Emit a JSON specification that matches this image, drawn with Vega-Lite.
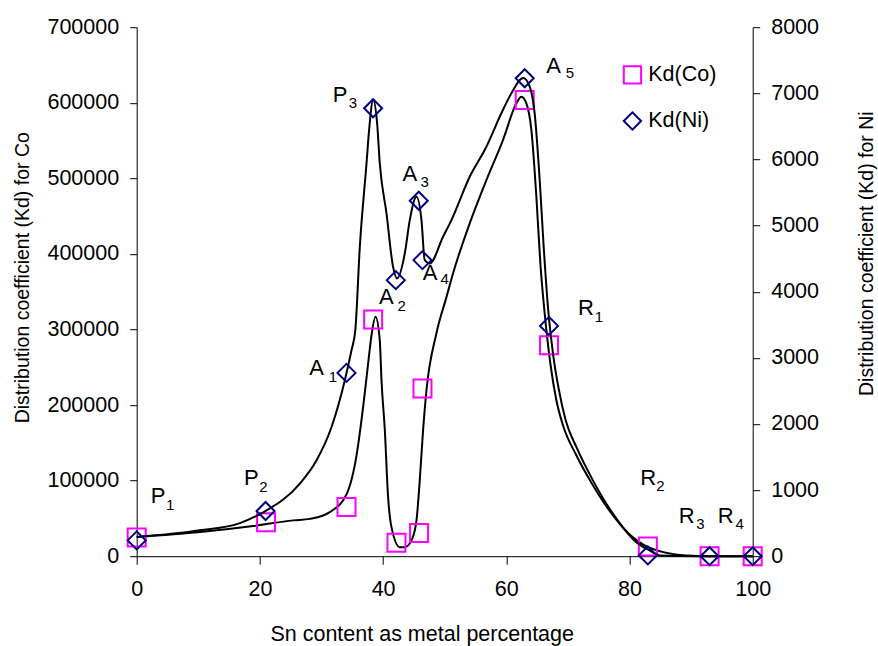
{
  "$schema": "https://vega.github.io/schema/vega-lite/v6.json",
  "width": 616,
  "height": 529,
  "autosize": {"type": "none"},
  "padding": {"left": 136.7, "top": 27.2, "right": 125.3, "bottom": 89.8},
  "background": "white",
  "datasets": {
    "co_points": [
      {"x": 0, "kd": 24900, "series": "Kd(Co)"},
      {"x": 21, "kd": 44800, "series": "Kd(Co)"},
      {"x": 34.06, "kd": 65000, "series": "Kd(Co)"},
      {"x": 38.38, "kd": 313200, "series": "Kd(Co)"},
      {"x": 42.17, "kd": 17900, "series": "Kd(Co)"},
      {"x": 45.84, "kd": 30600, "series": "Kd(Co)"},
      {"x": 46.39, "kd": 221900, "series": "Kd(Co)"},
      {"x": 62.99, "kd": 603700, "series": "Kd(Co)"},
      {"x": 66.93, "kd": 279200, "series": "Kd(Co)"},
      {"x": 82.98, "kd": 13000, "series": "Kd(Co)"},
      {"x": 93, "kd": 0, "series": "Kd(Co)"},
      {"x": 100, "kd": 0, "series": "Kd(Co)"}
    ],
    "ni_points": [
      {"x": 0, "kd": 239, "series": "Kd(Ni)"},
      {"x": 20.92, "kd": 683, "series": "Kd(Ni)"},
      {"x": 34.06, "kd": 2772, "series": "Kd(Ni)"},
      {"x": 38.38, "kd": 6774, "series": "Kd(Ni)"},
      {"x": 42.06, "kd": 4175, "series": "Kd(Ni)"},
      {"x": 45.79, "kd": 5375, "series": "Kd(Ni)"},
      {"x": 46.39, "kd": 4478, "series": "Kd(Ni)"},
      {"x": 62.99, "kd": 7228, "series": "Kd(Ni)"},
      {"x": 66.93, "kd": 3483, "series": "Kd(Ni)"},
      {"x": 82.98, "kd": 12, "series": "Kd(Ni)"},
      {"x": 93, "kd": 0, "series": "Kd(Ni)"},
      {"x": 100, "kd": 0, "series": "Kd(Ni)"}
    ],
    "co_curve": [
      {"x": 0, "kd": 25300}, {"x": 10.27, "kd": 31900}, {"x": 18.91, "kd": 39900},
      {"x": 25.4, "kd": 47400}, {"x": 28.11, "kd": 49400}, {"x": 31.35, "kd": 58400},
      {"x": 34.06, "kd": 81900}, {"x": 35.69, "kd": 133500}, {"x": 36.76, "kd": 197500},
      {"x": 37.57, "kd": 255000}, {"x": 38.12, "kd": 292400}, {"x": 38.77, "kd": 316700},
      {"x": 39.46, "kd": 285800}, {"x": 39.74, "kd": 232800}, {"x": 40.28, "kd": 166600},
      {"x": 40.81, "kd": 78300}, {"x": 41.36, "kd": 38500}, {"x": 42.71, "kd": 12000},
      {"x": 43.52, "kd": 12000}, {"x": 44.61, "kd": 20900}, {"x": 45.42, "kd": 47400},
      {"x": 45.95, "kd": 100400}, {"x": 46.49, "kd": 166600}, {"x": 47.04, "kd": 219600},
      {"x": 48.66, "kd": 295100}, {"x": 50.28, "kd": 342800}, {"x": 51.35, "kd": 374200},
      {"x": 54.06, "kd": 440400}, {"x": 56.77, "kd": 497700}, {"x": 59.46, "kd": 550700},
      {"x": 61.64, "kd": 599300}, {"x": 62.45, "kd": 608100}, {"x": 63.26, "kd": 599300},
      {"x": 64.07, "kd": 564000}, {"x": 64.88, "kd": 475600}, {"x": 65.53, "kd": 387400},
      {"x": 66.23, "kd": 321200}, {"x": 67.15, "kd": 255000}, {"x": 68.13, "kd": 206400},
      {"x": 69.2, "kd": 173200}, {"x": 71.37, "kd": 133500}, {"x": 74.06, "kd": 93800},
      {"x": 77.31, "kd": 54100}, {"x": 80.55, "kd": 24900}, {"x": 82.45, "kd": 14300},
      {"x": 85.5, "kd": 5400}, {"x": 89.2, "kd": 1000}, {"x": 93, "kd": 0}, {"x": 100, "kd": 0}
    ],
    "ni_curve": [
      {"x": 0, "kd": 289}, {"x": 10.27, "kd": 391}, {"x": 16.76, "kd": 501},
      {"x": 20.53, "kd": 663}, {"x": 26.49, "kd": 1098}, {"x": 29.2, "kd": 1450},
      {"x": 31.63, "kd": 1954}, {"x": 33.79, "kd": 2661}, {"x": 34.87, "kd": 3115},
      {"x": 35.49, "kd": 3418}, {"x": 36.22, "kd": 4679}, {"x": 37.31, "kd": 5942},
      {"x": 37.73, "kd": 6446}, {"x": 38.38, "kd": 6900}, {"x": 39.03, "kd": 6547},
      {"x": 39.46, "kd": 5942}, {"x": 40.55, "kd": 5185}, {"x": 41.62, "kd": 4376},
      {"x": 42.27, "kd": 4201}, {"x": 43.52, "kd": 4579}, {"x": 44.33, "kd": 5083},
      {"x": 45.42, "kd": 5436}, {"x": 46.23, "kd": 5083}, {"x": 46.76, "kd": 4478},
      {"x": 47.57, "kd": 4428}, {"x": 49.73, "kd": 4831}, {"x": 51.09, "kd": 5083},
      {"x": 54.06, "kd": 5739}, {"x": 56.77, "kd": 6193}, {"x": 59.2, "kd": 6699},
      {"x": 60.83, "kd": 7001}, {"x": 62.74, "kd": 7230}, {"x": 63.8, "kd": 7101},
      {"x": 64.6, "kd": 6699}, {"x": 65.42, "kd": 5689}, {"x": 66.07, "kd": 4679},
      {"x": 66.76, "kd": 3771}, {"x": 67.58, "kd": 3065}, {"x": 68.55, "kd": 2510},
      {"x": 69.64, "kd": 2056}, {"x": 71.37, "kd": 1652}, {"x": 74.06, "kd": 1147},
      {"x": 77.31, "kd": 643}, {"x": 81.1, "kd": 213}, {"x": 83.26, "kd": 88},
      {"x": 84.88, "kd": 12}, {"x": 91.4, "kd": 0}, {"x": 100, "kd": 0}
    ],
    "labels": [
      {"text": "P", "kind": "main", "x": 2.27, "kd": 70300},
      {"text": "1", "kind": "sub", "x": 4.75, "kd": 61590},
      {"text": "P", "kind": "main", "x": 17.4, "kd": 93800},
      {"text": "2", "kind": "sub", "x": 19.89, "kd": 84900},
      {"text": "P", "kind": "main", "x": 31.84, "kd": 601500},
      {"text": "3", "kind": "sub", "x": 34.44, "kd": 593100},
      {"text": "A", "kind": "main", "x": 28.0, "kd": 239500},
      {"text": "1", "kind": "sub", "x": 31.19, "kd": 230600},
      {"text": "A", "kind": "main", "x": 39.35, "kd": 333500},
      {"text": "2", "kind": "sub", "x": 42.34, "kd": 324600},
      {"text": "A", "kind": "main", "x": 43.15, "kd": 496800},
      {"text": "3", "kind": "sub", "x": 46.07, "kd": 488500},
      {"text": "A", "kind": "main", "x": 46.44, "kd": 365300},
      {"text": "4", "kind": "sub", "x": 49.31, "kd": 360000},
      {"text": "A", "kind": "main", "x": 66.5, "kd": 639900},
      {"text": "5", "kind": "sub", "x": 69.64, "kd": 632400},
      {"text": "R", "kind": "main", "x": 71.63, "kd": 318900},
      {"text": "1", "kind": "sub", "x": 74.34, "kd": 310100},
      {"text": "R", "kind": "main", "x": 81.75, "kd": 93800},
      {"text": "2", "kind": "sub", "x": 84.35, "kd": 85800},
      {"text": "R", "kind": "main", "x": 88.0, "kd": 43800},
      {"text": "3", "kind": "sub", "x": 90.83, "kd": 36400},
      {"text": "R", "kind": "main", "x": 94.34, "kd": 43800},
      {"text": "4", "kind": "sub", "x": 97.21, "kd": 36400}
    ]
  },
  "layer": [
    {
      "layer": [
        {
          "data": {"name": "co_curve"},
          "mark": {"type": "line", "color": "black", "strokeWidth": 2, "interpolate": "monotone"},
          "encoding": {
            "x": {"field": "x", "type": "quantitative"},
            "y": {"field": "kd", "type": "quantitative"}
          }
        },
        {
          "data": {"name": "co_points"},
          "mark": {"type": "point", "filled": false, "size": 324, "strokeWidth": 2, "opacity": 1},
          "encoding": {
            "x": {"field": "x", "type": "quantitative"},
            "y": {"field": "kd", "type": "quantitative"},
            "color": {"field": "series", "type": "nominal",
                      "scale": {"domain": ["Kd(Co)", "Kd(Ni)"], "range": ["#FF00FF", "#000080"]},
                      "legend": {"orient": "none", "legendX": 485, "legendY": 37, "title": null}},
            "shape": {"field": "series", "type": "nominal",
                      "scale": {"domain": ["Kd(Co)", "Kd(Ni)"], "range": ["square", "diamond"]},
                      "legend": {"orient": "none", "legendX": 485, "legendY": 37, "title": null}}
          }
        },
        {
          "data": {"name": "labels"},
          "mark": {"type": "text", "align": "left", "baseline": "alphabetic", "font": "Liberation Sans", "color": "black"},
          "encoding": {
            "x": {"field": "x", "type": "quantitative"},
            "y": {"field": "kd", "type": "quantitative"},
            "text": {"field": "text"},
            "size": {"field": "kind", "type": "nominal", "scale": {"domain": ["main", "sub"], "range": [22, 15]}, "legend": null}
          }
        }
      ],
      "encoding": {
        "x": {
          "field": "x", "type": "quantitative",
          "scale": {"domain": [0, 100], "nice": false, "zero": false},
          "axis": {"title": "Sn content as metal percentage", "values": [0, 20, 40, 60, 80, 100], "tickSize": 8, "labelPadding": 14,
                   "titleX": 285, "titleY": 84, "titleBaseline": "alphabetic", "titleAlign": "center", "labelFlush": false, "labelOverlap": false}
        },
        "y": {
          "field": "kd", "type": "quantitative",
          "scale": {"domain": [0, 700000], "nice": false},
          "axis": {"title": "Distribution coefficient (Kd) for Co", "orient": "left", "values": [0, 100000, 200000, 300000, 400000, 500000, 600000, 700000],
                   "format": "d", "titleFont": "Liberation Sans", "titleFontSize": 19.5,
                   "titleX": -108, "titleY": 250, "titleAngle": -90, "titleBaseline": "alphabetic", "titleAlign": "center", "labelFlush": false, "labelOverlap": false}
        }
      }
    },
    {
      "layer": [
        {
          "data": {"name": "ni_curve"},
          "mark": {"type": "line", "color": "black", "strokeWidth": 2, "interpolate": "monotone"},
          "encoding": {
            "x": {"field": "x", "type": "quantitative"},
            "y": {"field": "kd", "type": "quantitative"}
          }
        },
        {
          "data": {"name": "ni_points"},
          "mark": {"type": "point", "filled": false, "size": 324, "strokeWidth": 2, "opacity": 1},
          "encoding": {
            "x": {"field": "x", "type": "quantitative"},
            "y": {"field": "kd", "type": "quantitative"},
            "color": {"field": "series", "type": "nominal"},
            "shape": {"field": "series", "type": "nominal"}
          }
        }
      ],
      "encoding": {
        "x": {"field": "x", "type": "quantitative", "scale": {"domain": [0, 100], "nice": false, "zero": false}},
        "y": {
          "field": "kd", "type": "quantitative",
          "scale": {"domain": [0, 8000], "nice": false},
          "axis": {"title": "Distribution coefficient (Kd) for Ni", "orient": "right", "values": [0, 1000, 2000, 3000, 4000, 5000, 6000, 7000, 8000],
                   "format": "d", "titleFont": "Liberation Sans", "titleFontSize": 19.5,
                   "titleX": 119.5, "titleY": 226, "titleAngle": -90, "titleBaseline": "alphabetic", "titleAlign": "center", "labelFlush": false, "labelOverlap": false}
        }
      }
    }
  ],
  "resolve": {"scale": {"y": "independent"}},
  "config": {
    "view": {"stroke": null},
    "axis": {
      "grid": false, "domainColor": "black", "tickColor": "black", "labelColor": "black", "titleColor": "black",
      "labelFont": "Liberation Sans", "titleFont": "Liberation Sans", "labelFontSize": 21.5, "titleFontSize": 21.5,
      "titleFontWeight": "normal", "tickSize": 7, "labelPadding": 11, "domainWidth": 1, "tickWidth": 1
    },
    "legend": {
      "labelFont": "Liberation Sans", "labelFontSize": 21.5, "labelColor": "black", "symbolSize": 300,
      "symbolStrokeWidth": 2, "rowPadding": 20, "padding": 0, "labelOffset": 5
    }
  }
}
